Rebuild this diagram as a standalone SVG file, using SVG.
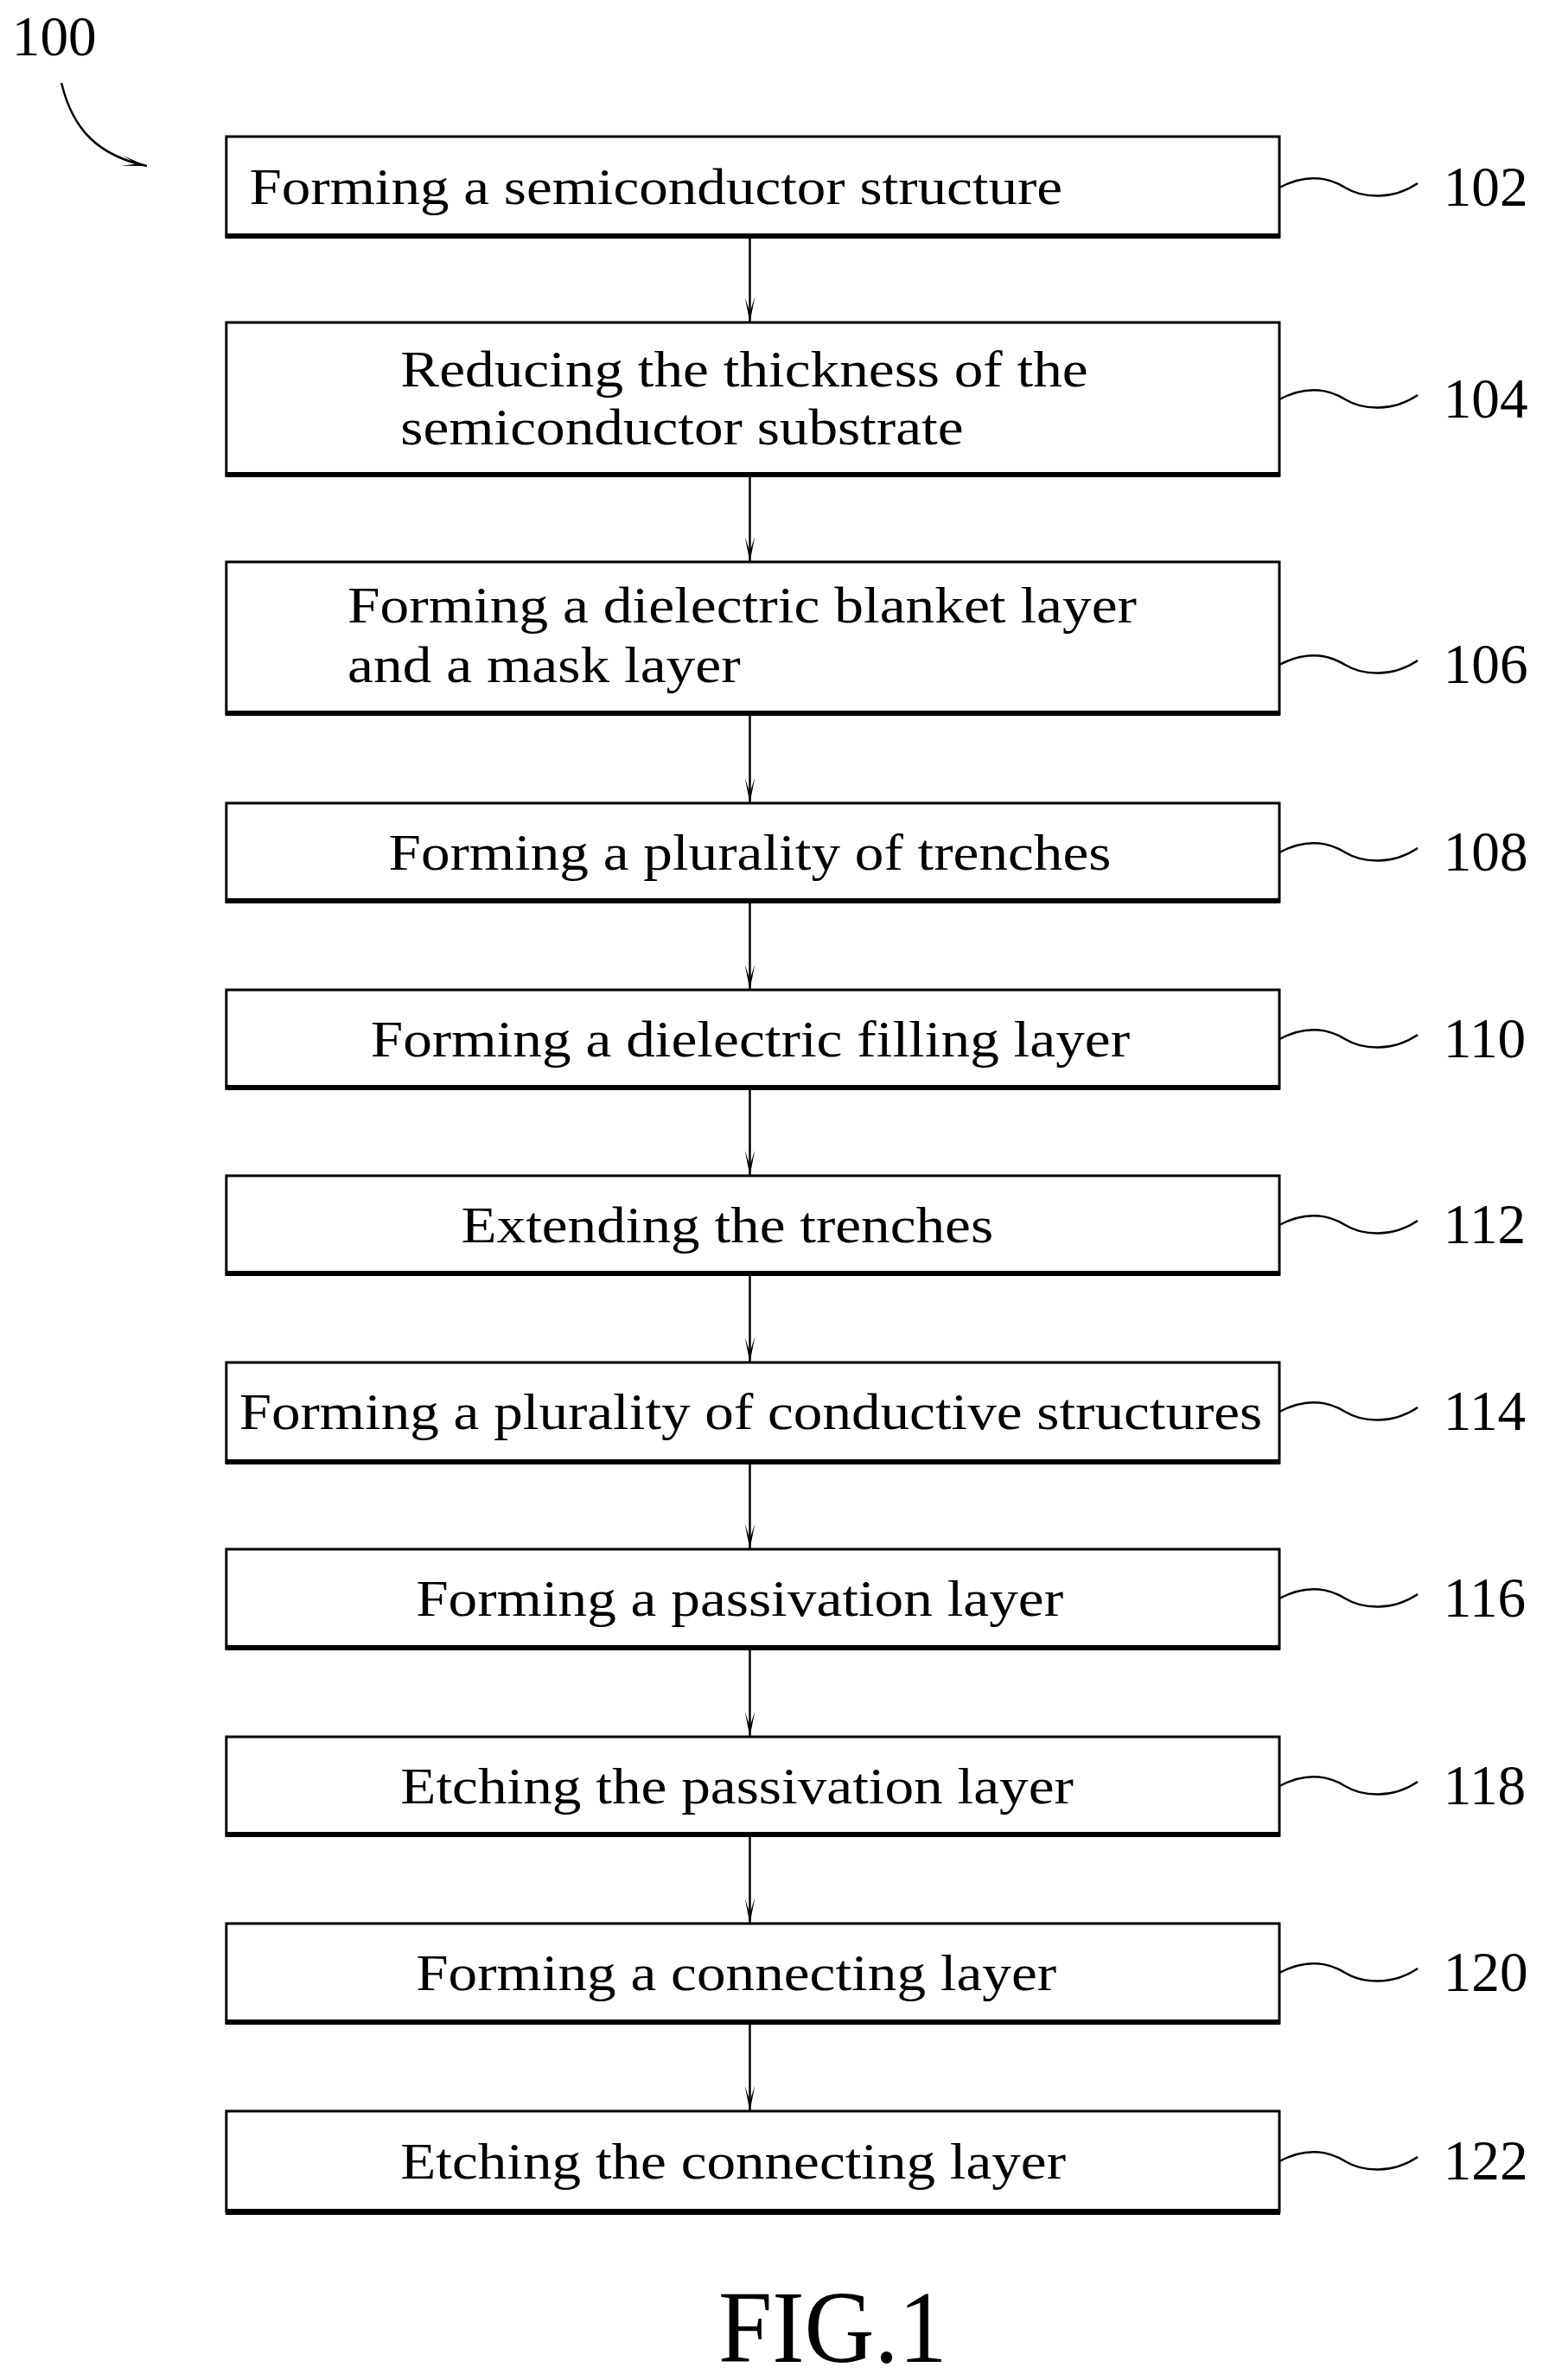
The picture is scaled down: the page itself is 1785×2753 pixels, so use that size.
<svg xmlns="http://www.w3.org/2000/svg" width="1785" height="2753" viewBox="0 0 1785 2753">
<style>
.b{fill:#fff;stroke:#000;stroke-width:3}
.t{font-family:"Liberation Serif",serif;font-size:60px;fill:#000}
.l{font-family:"Liberation Serif",serif;font-size:66px;fill:#000}
.c{fill:none;stroke:#000;stroke-width:2.5}
</style>
<defs>
<marker id="ah" markerWidth="30" markerHeight="12" refX="30" refY="6" orient="auto" markerUnits="userSpaceOnUse" viewBox="0 0 30 12">
<path d="M0,0 L30,6 L0,12 L18,6 Z" fill="#000"/>
</marker>
</defs>
<rect width="1785" height="2753" fill="#fff"/>
<g transform="scale(0.988 1)">
<text class="l" x="14" y="64">100</text>
<path class="c" d="M72,96 C85,150 115,180 172,192" marker-end="url(#ah)"/>
<g id="n102"><rect class="b" x="265" y="158" width="1233" height="116"/><rect x="264" y="270" width="1235" height="6"/><text class="t" x="292" y="236" textLength="952" lengthAdjust="spacingAndGlyphs">Forming a semiconductor structure</text><path class="c" d="M1498,217 C1530,200 1555,205 1575,217 S1630,232 1660,212"/><text class="l" x="1690" y="238">102</text></g>
<g id="n104"><rect class="b" x="265" y="373" width="1233" height="177"/><rect x="264" y="546" width="1235" height="6"/><text class="t" x="469" y="447" textLength="805" lengthAdjust="spacingAndGlyphs">Reducing the thickness of the</text><text class="t" x="469" y="514" textLength="659" lengthAdjust="spacingAndGlyphs">semiconductor substrate</text><path class="c" d="M1498,462 C1530,445 1555,450 1575,462 S1630,477 1660,457"/><text class="l" x="1690" y="483">104</text></g>
<g id="n106"><rect class="b" x="265" y="650" width="1233" height="176"/><rect x="264" y="822" width="1235" height="6"/><text class="t" x="407" y="720" textLength="924" lengthAdjust="spacingAndGlyphs">Forming a dielectric blanket layer</text><text class="t" x="407" y="789" textLength="460" lengthAdjust="spacingAndGlyphs">and a mask layer</text><path class="c" d="M1498,769 C1530,752 1555,757 1575,769 S1630,784 1660,764"/><text class="l" x="1690" y="790">106</text></g>
<g id="n108"><rect class="b" x="265" y="929" width="1233" height="114"/><rect x="264" y="1039" width="1235" height="6"/><text class="t" x="455" y="1006" textLength="846" lengthAdjust="spacingAndGlyphs">Forming a plurality of trenches</text><path class="c" d="M1498,986 C1530,969 1555,974 1575,986 S1630,1001 1660,981"/><text class="l" x="1690" y="1007">108</text></g>
<g id="n110"><rect class="b" x="265" y="1145" width="1233" height="114"/><rect x="264" y="1255" width="1235" height="6"/><text class="t" x="434" y="1222" textLength="889" lengthAdjust="spacingAndGlyphs">Forming a dielectric filling layer</text><path class="c" d="M1498,1202 C1530,1185 1555,1190 1575,1202 S1630,1217 1660,1197"/><text class="l" x="1690" y="1223">110</text></g>
<g id="n112"><rect class="b" x="265" y="1360" width="1233" height="114"/><rect x="264" y="1470" width="1235" height="6"/><text class="t" x="540" y="1437" textLength="623" lengthAdjust="spacingAndGlyphs">Extending the trenches</text><path class="c" d="M1498,1417 C1530,1400 1555,1405 1575,1417 S1630,1432 1660,1412"/><text class="l" x="1690" y="1438">112</text></g>
<g id="n114"><rect class="b" x="265" y="1576" width="1233" height="116"/><rect x="264" y="1688" width="1235" height="6"/><text class="t" x="280" y="1653" textLength="1198" lengthAdjust="spacingAndGlyphs">Forming a plurality of conductive structures</text><path class="c" d="M1498,1633 C1530,1616 1555,1621 1575,1633 S1630,1648 1660,1628"/><text class="l" x="1690" y="1654">114</text></g>
<g id="n116"><rect class="b" x="265" y="1792" width="1233" height="115"/><rect x="264" y="1903" width="1235" height="6"/><text class="t" x="487" y="1869" textLength="758" lengthAdjust="spacingAndGlyphs">Forming a passivation layer</text><path class="c" d="M1498,1849 C1530,1832 1555,1837 1575,1849 S1630,1864 1660,1844"/><text class="l" x="1690" y="1870">116</text></g>
<g id="n118"><rect class="b" x="265" y="2009" width="1233" height="114"/><rect x="264" y="2119" width="1235" height="6"/><text class="t" x="469" y="2086" textLength="788" lengthAdjust="spacingAndGlyphs">Etching the passivation layer</text><path class="c" d="M1498,2066 C1530,2049 1555,2054 1575,2066 S1630,2081 1660,2061"/><text class="l" x="1690" y="2087">118</text></g>
<g id="n120"><rect class="b" x="265" y="2225" width="1233" height="115"/><rect x="264" y="2336" width="1235" height="6"/><text class="t" x="487" y="2302" textLength="750" lengthAdjust="spacingAndGlyphs">Forming a connecting layer</text><path class="c" d="M1498,2282 C1530,2265 1555,2270 1575,2282 S1630,2297 1660,2277"/><text class="l" x="1690" y="2303">120</text></g>
<g id="n122"><rect class="b" x="265" y="2442" width="1233" height="116"/><rect x="264" y="2555" width="1235" height="7"/><text class="t" x="469" y="2520" textLength="779" lengthAdjust="spacingAndGlyphs">Etching the connecting layer</text><path class="c" d="M1498,2500 C1530,2483 1555,2488 1575,2500 S1630,2515 1660,2495"/><text class="l" x="1690" y="2521">122</text></g>
<g id="connectors">
<line class="c" x1="878" y1="276" x2="878" y2="373" marker-end="url(#ah)"/>
<line class="c" x1="878" y1="552" x2="878" y2="650" marker-end="url(#ah)"/>
<line class="c" x1="878" y1="828" x2="878" y2="929" marker-end="url(#ah)"/>
<line class="c" x1="878" y1="1045" x2="878" y2="1145" marker-end="url(#ah)"/>
<line class="c" x1="878" y1="1261" x2="878" y2="1360" marker-end="url(#ah)"/>
<line class="c" x1="878" y1="1476" x2="878" y2="1576" marker-end="url(#ah)"/>
<line class="c" x1="878" y1="1694" x2="878" y2="1792" marker-end="url(#ah)"/>
<line class="c" x1="878" y1="1909" x2="878" y2="2009" marker-end="url(#ah)"/>
<line class="c" x1="878" y1="2125" x2="878" y2="2225" marker-end="url(#ah)"/>
<line class="c" x1="878" y1="2342" x2="878" y2="2442" marker-end="url(#ah)"/>
</g>
<text x="841" y="2732" textLength="268" lengthAdjust="spacingAndGlyphs" style="font-family:'Liberation Serif',serif;font-size:118px">FIG.1</text>
</g>
</svg>
